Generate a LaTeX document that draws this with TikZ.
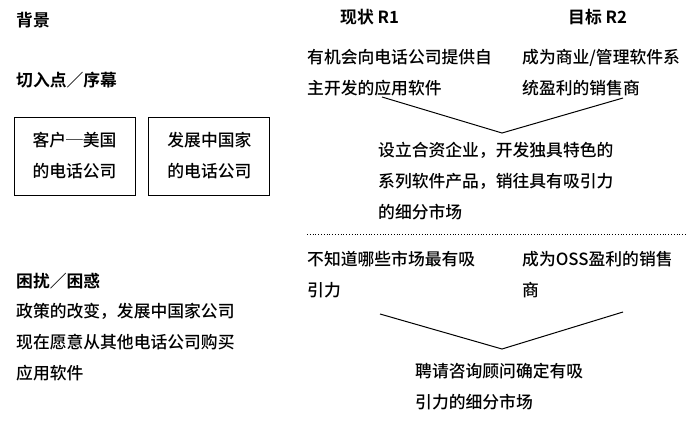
\documentclass[tikz,border=0pt]{standalone}
\usepackage{fontspec}
\newfontfamily\cjk{Noto Sans CJK SC}[UprightFont=* Medium, BoldFont=* Bold]
\usetikzlibrary{positioning}

\begin{document}
\begin{tikzpicture}[x=1pt,y=-1pt]
	\tikzstyle{txt} = [inner sep=0pt, align=left, font=\cjk\fontsize{16.8}{31}\selectfont]
	\tikzstyle{head} = [txt, anchor=west, font=\cjk\bfseries\fontsize{16.8}{31}\selectfont]
	\tikzstyle{para} = [txt, anchor=north west]
	\tikzstyle{block} = [draw, rectangle, line width=0.9pt, minimum width=121pt, minimum height=78pt, txt, align=center]
	\useasboundingbox (0,0) rectangle (686,428);
	
	% left column
	\node [head] (bg) at (16,20) {背景};
	\node [head] (entry) at (16,80) {切入点／序幕};
	\node [block] (usa) at (74.5,156) {客户─美国\\的电话公司};
	\node [block, right = 13pt of usa] (dev) {发展中国家\\的电话公司};
	\node [head] (trouble) at (16,281) {困扰／困惑};
	\node [para] (policy) at (16,303) {政策的改变，发展中国家公司\\现在愿意从其他电话公司购买\\应用软件};
	
	% headers
	\node [head] (r1) at (340,17) {现状 R1};
	\node [head] (r2) at (568,17) {目标 R2};
	
	% first round
	\node [para] (cur1) at (307,49) {有机会向电话公司提供自\\主开发的应用软件};
	\node [para] (goal1) at (522,49) {成为商业/管理软件系\\统盈利的销售商};
	\coordinate (v1l) at (382,97);
	\coordinate (v1b) at (502,133);
	\coordinate (v1r) at (623,98);
	\node [para] (sol1) at (378,142) {设立合资企业，开发独具特色的\\系列软件产品，销往具有吸引力\\的细分市场};
	
	% separator
	\coordinate (d0) at (307,234);
	\coordinate (d1) at (686,234);
	
	% second round
	\node [para] (cur2) at (307,251) {不知道哪些市场最有吸\\引力};
	\node [para] (goal2) at (522,251) {成为OSS盈利的销售\\商};
	\coordinate (v2l) at (380,314);
	\coordinate (v2b) at (502,349);
	\coordinate (v2r) at (623,312);
	\node [para] (sol2) at (415,363) {聘请咨询顾问确定有吸\\引力的细分市场};
	
	\draw [-, line width=1pt] (v1l) -- (v1b) -- (v1r);
	\draw [-, line width=1pt] (v2l) -- (v2b) -- (v2r);
	\draw [dotted, line width=0.8pt] (d0) -- (d1);
\end{tikzpicture}
\end{document}
